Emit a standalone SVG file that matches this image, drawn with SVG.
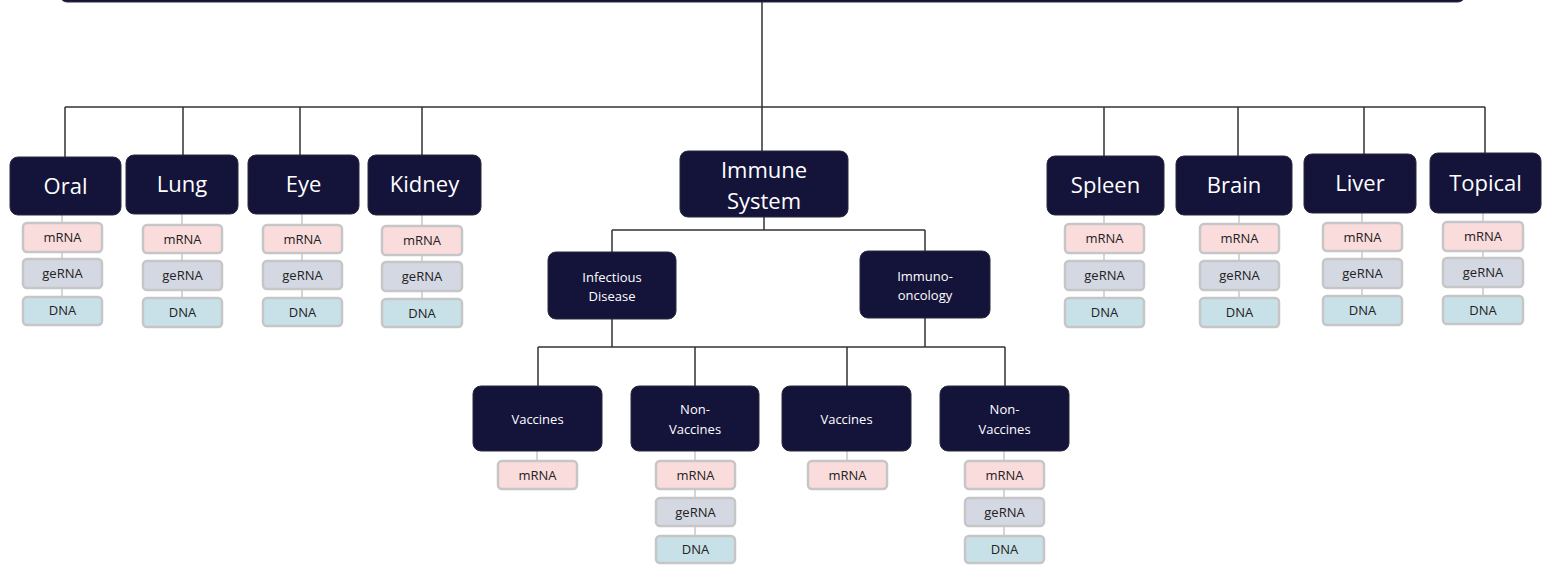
<svg xmlns="http://www.w3.org/2000/svg" width="1542" height="568" viewBox="0 0 1542 568">
<style>
.n{fill:#14133a;stroke:#2a2a3a;stroke-width:1}
.t{font-family:"Open Sans","Liberation Sans",sans-serif;fill:#ffffff;text-anchor:middle}
.big{font-size:22px}
.sm{font-size:13px}
.p{stroke:#c6c6c6;stroke-width:2.5}
.m{fill:#fadcdc}
.g{fill:#d4d8e3}
.d{fill:#c8e0e8}
.pt{font-family:"Open Sans","Liberation Sans",sans-serif;font-size:13px;fill:#222;text-anchor:middle}
.c{stroke:#333;stroke-width:1.5;fill:none}
.pc{stroke:#c8c8c8;stroke-width:1.5;fill:none}
</style>
<rect width="1542" height="568" fill="#ffffff"/>
<g id="connectors">
<path class="c" d="M762 2V151M65 107H1485M65 107V157M183 107V155M300 107V155M422 107V155M1104 107V156M1238 107V156M1364 107V154M1485 107V153"/>
<path class="c" d="M764 217V230M612 230H925M612 230V252M925 230V251"/>
<path class="c" d="M612 319V347M925 318V347M538 347H1005M538 347V386M695 347V386M847 347V386M1005 347V386"/>
<path class="pc" d="M62 215V325M182 214V327M302 214V326M422 215V327M1104 215V327M1239 215V327M1362 213V325M1483 213V324"/>
<path class="pc" d="M537 451V462M695 451V563M847 451V462M1004 451V563"/>
</g>
<g id="top"><rect class="n" x="60" y="-30" width="1405" height="32" rx="7"/></g>
<g id="oral"><rect class="n" x="10" y="157" width="111" height="58" rx="8"/><text class="t big" x="65.5" y="194">Oral</text></g>
<g id="lung"><rect class="n" x="126" y="155" width="112" height="59" rx="8"/><text class="t big" x="182" y="192">Lung</text></g>
<g id="eye"><rect class="n" x="248" y="155" width="111" height="59" rx="8"/><text class="t big" x="303.5" y="192">Eye</text></g>
<g id="kidney"><rect class="n" x="368" y="155" width="113" height="60" rx="8"/><text class="t big" x="424.5" y="192">Kidney</text></g>
<g id="immune"><rect class="n" x="680" y="151" width="168" height="66" rx="8"/><text class="t big" x="764" y="178">Immune</text><text class="t big" x="764" y="209">System</text></g>
<g id="spleen"><rect class="n" x="1047" y="156" width="117" height="59" rx="8"/><text class="t big" x="1105.5" y="193">Spleen</text></g>
<g id="brain"><rect class="n" x="1176" y="156" width="116" height="59" rx="8"/><text class="t big" x="1234" y="193">Brain</text></g>
<g id="liver"><rect class="n" x="1304" y="154" width="112" height="59" rx="8"/><text class="t big" x="1360" y="191">Liver</text></g>
<g id="topical"><rect class="n" x="1430" y="153" width="111" height="60" rx="8"/><text class="t big" x="1485.5" y="191">Topical</text></g>
<g id="infectious"><rect class="n" x="548" y="252" width="128" height="67" rx="8"/><text class="t sm" x="612" y="282">Infectious</text><text class="t sm" x="612" y="301">Disease</text></g>
<g id="immunooncology"><rect class="n" x="860" y="251" width="130" height="67" rx="8"/><text class="t sm" x="925" y="281">Immuno-</text><text class="t sm" x="925" y="300">oncology</text></g>
<g id="vaccines1"><rect class="n" x="473" y="386" width="129" height="65" rx="8"/><text class="t sm" x="537.5" y="424">Vaccines</text></g>
<g id="nonvaccines1"><rect class="n" x="631" y="386" width="128" height="65" rx="8"/><text class="t sm" x="695" y="414">Non-</text><text class="t sm" x="695" y="434">Vaccines</text></g>
<g id="vaccines2"><rect class="n" x="782" y="386" width="129" height="65" rx="8"/><text class="t sm" x="846.5" y="424">Vaccines</text></g>
<g id="nonvaccines2"><rect class="n" x="940" y="386" width="129" height="65" rx="8"/><text class="t sm" x="1004.5" y="414">Non-</text><text class="t sm" x="1004.5" y="434">Vaccines</text></g>
<g id="pills-oral">
<rect class="p m" x="23" y="223" width="79" height="29" rx="4"/><text class="pt" x="62.5" y="242">mRNA</text>
<rect class="p g" x="23" y="259" width="79" height="29" rx="4"/><text class="pt" x="62.5" y="278">geRNA</text>
<rect class="p d" x="23" y="297" width="79" height="28" rx="4"/><text class="pt" x="62.5" y="315">DNA</text>
</g>
<g id="pills-lung">
<rect class="p m" x="143" y="225" width="79" height="28" rx="4"/><text class="pt" x="182.5" y="244">mRNA</text>
<rect class="p g" x="143" y="261" width="79" height="29" rx="4"/><text class="pt" x="182.5" y="280">geRNA</text>
<rect class="p d" x="143" y="298" width="79" height="29" rx="4"/><text class="pt" x="182.5" y="317">DNA</text>
</g>
<g id="pills-eye">
<rect class="p m" x="263" y="225" width="79" height="28" rx="4"/><text class="pt" x="302.5" y="244">mRNA</text>
<rect class="p g" x="263" y="261" width="79" height="28" rx="4"/><text class="pt" x="302.5" y="280">geRNA</text>
<rect class="p d" x="263" y="298" width="79" height="28" rx="4"/><text class="pt" x="302.5" y="317">DNA</text>
</g>
<g id="pills-kidney">
<rect class="p m" x="382" y="226" width="80" height="29" rx="4"/><text class="pt" x="422" y="245">mRNA</text>
<rect class="p g" x="382" y="262" width="80" height="29" rx="4"/><text class="pt" x="422" y="281">geRNA</text>
<rect class="p d" x="382" y="299" width="80" height="28" rx="4"/><text class="pt" x="422" y="318">DNA</text>
</g>
<g id="pills-spleen">
<rect class="p m" x="1065" y="224" width="79" height="29" rx="4"/><text class="pt" x="1104.5" y="243">mRNA</text>
<rect class="p g" x="1065" y="261" width="79" height="29" rx="4"/><text class="pt" x="1104.5" y="280">geRNA</text>
<rect class="p d" x="1065" y="298" width="79" height="29" rx="4"/><text class="pt" x="1104.5" y="317">DNA</text>
</g>
<g id="pills-brain">
<rect class="p m" x="1200" y="224" width="79" height="29" rx="4"/><text class="pt" x="1239.5" y="243">mRNA</text>
<rect class="p g" x="1200" y="261" width="79" height="29" rx="4"/><text class="pt" x="1239.5" y="280">geRNA</text>
<rect class="p d" x="1200" y="298" width="79" height="29" rx="4"/><text class="pt" x="1239.5" y="317">DNA</text>
</g>
<g id="pills-liver">
<rect class="p m" x="1323" y="223" width="79" height="28" rx="4"/><text class="pt" x="1362.5" y="242">mRNA</text>
<rect class="p g" x="1323" y="259" width="79" height="29" rx="4"/><text class="pt" x="1362.5" y="278">geRNA</text>
<rect class="p d" x="1323" y="296" width="79" height="29" rx="4"/><text class="pt" x="1362.5" y="315">DNA</text>
</g>
<g id="pills-topical">
<rect class="p m" x="1443" y="222" width="80" height="29" rx="4"/><text class="pt" x="1483" y="241">mRNA</text>
<rect class="p g" x="1443" y="258" width="80" height="29" rx="4"/><text class="pt" x="1483" y="277">geRNA</text>
<rect class="p d" x="1443" y="296" width="80" height="28" rx="4"/><text class="pt" x="1483" y="315">DNA</text>
</g>
<g id="pills-vaccines1">
<rect class="p m" x="498" y="461" width="79" height="28" rx="4"/><text class="pt" x="537.5" y="480">mRNA</text>
</g>
<g id="pills-nonvaccines1">
<rect class="p m" x="656" y="461" width="79" height="28" rx="4"/><text class="pt" x="695.5" y="480">mRNA</text>
<rect class="p g" x="656" y="498" width="79" height="28" rx="4"/><text class="pt" x="695.5" y="517">geRNA</text>
<rect class="p d" x="656" y="536" width="79" height="27" rx="4"/><text class="pt" x="695.5" y="554">DNA</text>
</g>
<g id="pills-vaccines2">
<rect class="p m" x="808" y="461" width="79" height="28" rx="4"/><text class="pt" x="847.5" y="480">mRNA</text>
</g>
<g id="pills-nonvaccines2">
<rect class="p m" x="965" y="461" width="79" height="28" rx="4"/><text class="pt" x="1004.5" y="480">mRNA</text>
<rect class="p g" x="965" y="498" width="79" height="28" rx="4"/><text class="pt" x="1004.5" y="517">geRNA</text>
<rect class="p d" x="965" y="536" width="79" height="27" rx="4"/><text class="pt" x="1004.5" y="554">DNA</text>
</g>
</svg>
